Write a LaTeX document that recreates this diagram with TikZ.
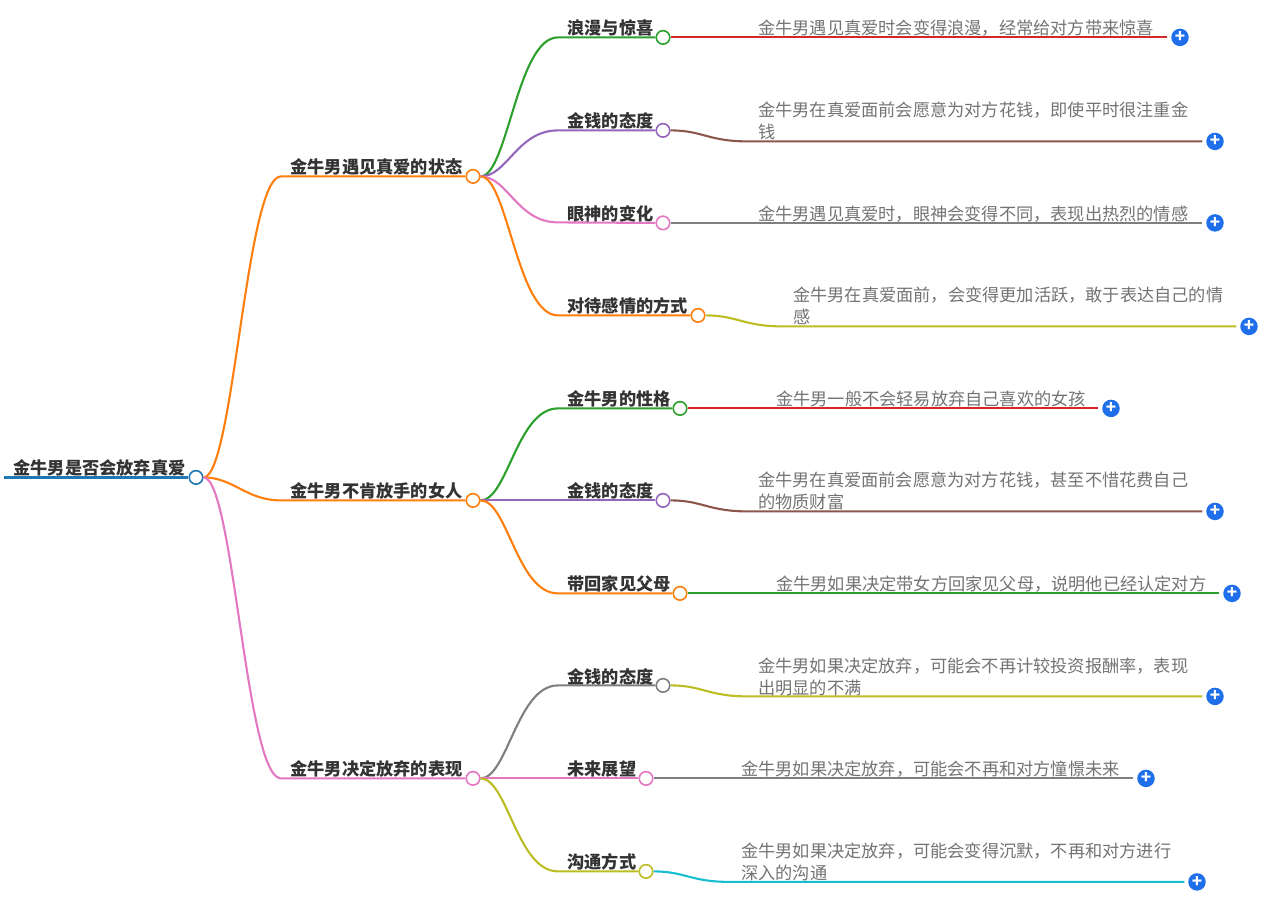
\documentclass[tikz,border=0pt]{standalone}
\usepackage{fontspec}
\setmainfont{Noto Sans CJK SC}
\definecolor{cblue}{HTML}{1F77B4}
\definecolor{corange}{HTML}{FF7F0E}
\definecolor{cgreen}{HTML}{2CA02C}
\definecolor{cred}{HTML}{D62728}
\definecolor{cpurple}{HTML}{9467BD}
\definecolor{cbrown}{HTML}{8C564B}
\definecolor{cpink}{HTML}{E377C2}
\definecolor{cgray}{HTML}{7F7F7F}
\definecolor{colive}{HTML}{BCBD22}
\definecolor{ccyan}{HTML}{17BECF}
\definecolor{cplus}{HTML}{1F6FEB}
\newcommand{\plusmark}{\raisebox{-1.2pt}{+}}
\tikzset{
    dot/.style={circle,draw=#1,fill=white,line width=1.6pt,minimum size=13.5pt,inner sep=0pt},
    plusdot/.style={circle,fill=cplus,minimum size=17.5pt,inner sep=0pt,outer sep=4pt,text=white,font=\fontsize{17}{17}\selectfont\bfseries},
    head/.style={anchor=west,text=black!80,inner sep=0pt,xshift=-0.7pt,yshift=-0.4pt,font=\fontsize{17.2}{22}\selectfont\bfseries},
    note/.style={anchor=west,align=left,text=black!55,inner sep=0pt,yshift=-0.3pt,font=\fontsize{17.2}{22}\selectfont},
    wire/.style={line width=2.1pt,#1},
}
\begin{document}
\begin{tikzpicture}[x=1pt,y=-1pt]
    \useasboundingbox (0,-0.4) rectangle (1269,898.6);

    \coordinate (rts) at (4,477);
    \coordinate (mak) at (281,176);
    \coordinate (mbk) at (281,500);
    \coordinate (mck) at (281,778);
    \coordinate (a1k) at (558,37);
    \coordinate (a2k) at (558,130);
    \coordinate (a3k) at (558,222);
    \coordinate (a4k) at (558,315);
    \coordinate (b1k) at (558,408);
    \coordinate (b2k) at (558,500);
    \coordinate (b3k) at (558,593);
    \coordinate (c1k) at (558,685);
    \coordinate (c2k) at (558,778);
    \coordinate (c3k) at (558,871);
    \coordinate (a1e) at (750,37);
    \coordinate (a2e) at (748,141);
    \coordinate (a3e) at (748,222.5);
    \coordinate (a4e) at (783,326);
    \coordinate (b1e) at (765,408);
    \coordinate (b2e) at (748,511);
    \coordinate (b3e) at (765,593);
    \coordinate (c1e) at (748,696);
    \coordinate (c2e) at (730,778);
    \coordinate (c3e) at (730,881.5);

    \node[dot=cblue] (rt) at (196,477) {};
    \node[dot=corange] (ma) at (473,176) {};
    \node[dot=corange] (mb) at (473,500) {};
    \node[dot=cpink] (mc) at (473,778) {};
    \node[dot=cgreen] (a1) at (663,37) {};
    \node[dot=cpurple] (a2) at (663,130) {};
    \node[dot=cpink] (a3) at (663,222.5) {};
    \node[dot=corange] (a4) at (698,315) {};
    \node[dot=cgreen] (b1) at (680,408) {};
    \node[dot=cpurple] (b2) at (663,500) {};
    \node[dot=corange] (b3) at (680,593) {};
    \node[dot=cgray] (c1) at (663,685) {};
    \node[dot=cpink] (c2) at (646,778) {};
    \node[dot=colive] (c3) at (646,871) {};

    \node[plusdot] (a1p) at (1180,37) {\plusmark};
    \node[plusdot] (a2p) at (1215,141) {\plusmark};
    \node[plusdot] (a3p) at (1215,222.5) {\plusmark};
    \node[plusdot] (a4p) at (1249,326) {\plusmark};
    \node[plusdot] (b1p) at (1111,408) {\plusmark};
    \node[plusdot] (b2p) at (1215,511) {\plusmark};
    \node[plusdot] (b3p) at (1232,593) {\plusmark};
    \node[plusdot] (c1p) at (1215,696) {\plusmark};
    \node[plusdot] (c2p) at (1146,778) {\plusmark};
    \node[plusdot] (c3p) at (1197,881.5) {\plusmark};

    \draw[line width=3.5pt,cblue](rts)--(rt.west);
    \draw[wire=corange](rt.east)..controls +(30,0) and +(-35,0)..(mak)--(ma.west);
    \draw[wire=corange](rt.east)..controls +(30,0) and +(-35,0)..(mbk)--(mb.west);
    \draw[wire=cpink](rt.east)..controls +(30,0) and +(-35,0)..(mck)--(mc.west);

    \draw[wire=cgreen](ma.east)..controls +(27,0) and +(-41,0)..(a1k)--(a1.west);
    \draw[wire=cpurple](ma.east)..controls +(27,0) and +(-41,0)..(a2k)--(a2.west);
    \draw[wire=cpink](ma.east)..controls +(27,0) and +(-41,0)..(a3k)--(a3.west);
    \draw[wire=corange](ma.east)..controls +(27,0) and +(-41,0)..(a4k)--(a4.west);
    \draw[wire=cgreen](mb.east)..controls +(27,0) and +(-41,0)..(b1k)--(b1.west);
    \draw[wire=cpurple](mb.east)--(b2k)--(b2.west);
    \draw[wire=corange](mb.east)..controls +(27,0) and +(-41,0)..(b3k)--(b3.west);
    \draw[wire=cgray](mc.east)..controls +(27,0) and +(-41,0)..(c1k)--(c1.west);
    \draw[wire=cpink](mc.east)--(c2k)--(c2.west);
    \draw[wire=colive](mc.east)..controls +(27,0) and +(-41,0)..(c3k)--(c3.west);

    \draw[wire=cred](a1.east)--(a1e)--(a1p.west);
    \draw[wire=cbrown](a2.east)..controls +(32,0) and +(-40,0)..(a2e)--(a2p.west);
    \draw[wire=cgray](a3.east)--(a3e)--(a3p.west);
    \draw[wire=colive](a4.east)..controls +(32,0) and +(-40,0)..(a4e)--(a4p.west);
    \draw[wire=cred](b1.east)--(b1e)--(b1p.west);
    \draw[wire=cbrown](b2.east)..controls +(32,0) and +(-40,0)..(b2e)--(b2p.west);
    \draw[wire=cgreen](b3.east)--(b3e)--(b3p.west);
    \draw[wire=colive](c1.east)..controls +(32,0) and +(-40,0)..(c1e)--(c1p.west);
    \draw[wire=cgray](c2.east)--(c2e)--(c2p.west);
    \draw[wire=ccyan](c3.east)..controls +(32,0) and +(-40,0)..(c3e)--(c3p.west);

    \node[head] (rtt) at (14,467) {金牛男是否会放弃真爱};
    \node[head] (mat) at (291,166) {金牛男遇见真爱的状态};
    \node[head] (mbt) at (291,490) {金牛男不肯放手的女人};
    \node[head] (mct) at (291,768) {金牛男决定放弃的表现};
    \node[head] (a1t) at (568,27) {浪漫与惊喜};
    \node[head] (a2t) at (568,120) {金钱的态度};
    \node[head] (a3t) at (568,213) {眼神的变化};
    \node[head] (a4t) at (568,305) {对待感情的方式};
    \node[head] (b1t) at (568,398) {金牛男的性格};
    \node[head] (b2t) at (568,490) {金钱的态度};
    \node[head] (b3t) at (568,583) {带回家见父母};
    \node[head] (c1t) at (568,676) {金钱的态度};
    \node[head] (c2t) at (568,768) {未来展望};
    \node[head] (c3t) at (568,861) {沟通方式};

    \node[note] (a1n) at (758,27) {金牛男遇见真爱时会变得浪漫，经常给对方带来惊喜};
    \node[note] (a2n) at (758,120) {金牛男在真爱面前会愿意为对方花钱，即使平时很注重金\\钱};
    \node[note] (a3n) at (758,213) {金牛男遇见真爱时，眼神会变得不同，表现出热烈的情感};
    \node[note] (a4n) at (793,305) {金牛男在真爱面前，会变得更加活跃，敢于表达自己的情\\感};
    \node[note] (b1n) at (776,398) {金牛男一般不会轻易放弃自己喜欢的女孩};
    \node[note] (b2n) at (758,490) {金牛男在真爱面前会愿意为对方花钱，甚至不惜花费自己\\的物质财富};
    \node[note] (b3n) at (776,583) {金牛男如果决定带女方回家见父母，说明他已经认定对方};
    \node[note] (c1n) at (758,676) {金牛男如果决定放弃，可能会不再计较投资报酬率，表现\\出明显的不满};
    \node[note] (c2n) at (741,768) {金牛男如果决定放弃，可能会不再和对方憧憬未来};
    \node[note] (c3n) at (741,861) {金牛男如果决定放弃，可能会变得沉默，不再和对方进行\\深入的沟通};
\end{tikzpicture}
\end{document}
